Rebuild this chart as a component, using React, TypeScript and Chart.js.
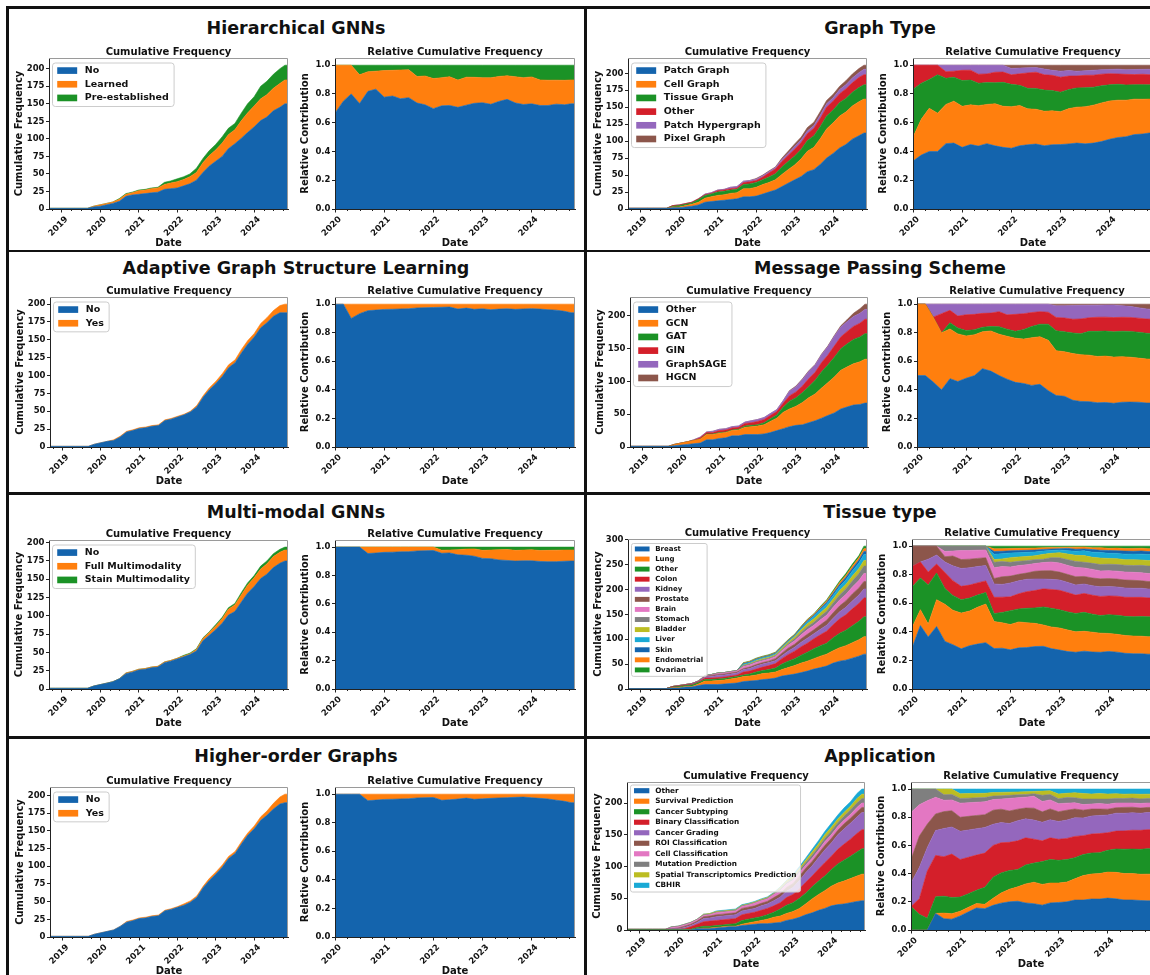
import React, { useEffect, useRef } from 'react';
import { Chart, registerables } from 'chart.js';

Chart.register(...registerables);
const FONT = '"DejaVu Sans", sans-serif';
Chart.defaults.font.family = FONT;
Chart.defaults.font.weight = 'bold';
Chart.defaults.color = '#111';

// ---------- time axis (decimal years) ----------
const DATES = [2018.67, 2018.83, 2019.0, 2019.17, 2019.33, 2019.5, 2019.67, 2019.83, 2020.0, 2020.17, 2020.33, 2020.5, 2020.67, 2020.83, 2021.0, 2021.17, 2021.33, 2021.5, 2021.67, 2021.83, 2022.0, 2022.17, 2022.33, 2022.5, 2022.67, 2022.83, 2023.0, 2023.17, 2023.33, 2023.5, 2023.67, 2023.83, 2024.0, 2024.17, 2024.33, 2024.5, 2024.67, 2024.8, 2024.88];
const CUM_YEARS = [2019, 2020, 2021, 2022, 2023, 2024];
const REL_YEARS = [2020, 2021, 2022, 2023, 2024];
const REL_START_YEAR = 2020.0;
const MINOR_STEP = 0.25;

// ---------- Hierarchical GNNs ----------
const HIER_LABELS = ['No', 'Learned', 'Pre-established'];
const HIER_NO = [1,1,1,1,1,1,1,3,4,6,8,11,18,20,21,22,23,24,28,29,30,33,36,41,52,61,68,75,86,93,101,109,117,126,131,140,145,150,150];
const HIER_LEARNED = [0,0,0,0,0,0,0,1,2,2,2,3,3,3,5,5,6,6,7,8,9,9,10,11,14,15,16,19,20,20,25,28,30,31,32,32,34,34,34];
const HIER_PRE = [0,0,0,0,0,0,0,0,0,0,0,1,1,1,1,1,1,1,3,3,4,4,4,6,6,7,8,9,9,9,11,13,13,18,19,20,21,21,21];

// ---------- Graph Type ----------
const GT_LABELS = ['Patch Graph', 'Cell Graph', 'Tissue Graph', 'Other', 'Patch Hypergraph', 'Pixel Graph'];
const GT_PATCH = [1,1,1,1,1,1,1,2,2,3,4,6,10,11,12,13,14,15,18,18,19,22,25,28,33,38,43,48,55,58,66,75,82,90,95,103,108,112,112];
const GT_CELL = [0,0,0,0,0,0,0,1,1,2,3,4,6,7,8,8,9,9,12,12,13,14,14,15,18,20,22,26,30,33,38,43,45,47,48,49,50,50,50];
const GT_TISSUE = [0,0,0,0,0,0,0,1,2,2,2,4,4,4,5,5,5,5,6,7,7,7,8,9,11,12,13,14,16,17,18,19,19,20,20,20,21,21,21];
const GT_OTHER = [0,0,0,0,0,0,0,1,1,1,1,1,1,1,2,2,2,2,3,3,3,4,6,7,8,9,10,10,10,11,12,13,13,13,14,14,15,15,15];
const GT_HYPER = [0,0,0,0,0,0,0,0,0,0,0,0,1,1,1,1,2,2,2,2,2,2,2,2,3,3,4,4,4,4,5,5,5,6,6,7,7,8,8];
const GT_PIXEL = [0,0,0,0,0,0,0,0,0,0,0,0,0,0,0,0,0,0,0,0,1,1,1,1,2,3,4,4,5,5,5,5,5,5,6,6,6,6,6];

// ---------- Adaptive Graph Structure Learning ----------
const AD_LABELS = ['No', 'Yes'];
const AD_NO = [1,1,1,1,1,1,1,4,6,8,9,14,21,23,26,27,29,30,37,39,42,45,49,56,70,80,89,99,111,118,132,144,154,167,174,183,188,188,188];
const AD_YES = [0,0,0,0,0,0,0,0,0,0,1,1,1,1,1,1,1,1,1,1,1,1,1,2,2,3,3,4,4,4,5,5,5,6,7,8,10,12,12];

// ---------- Message Passing Scheme ----------
const MSG_LABELS = ['Other', 'GCN', 'GAT', 'GIN', 'GraphSAGE', 'HGCN'];
const MSG_OTHER = [1,1,1,1,1,1,1,2,3,4,5,6,11,11,13,14,17,17,19,19,19,20,22,25,28,31,33,34,37,40,44,48,52,58,61,64,65,67,67];
const MSG_GCN = [0,0,0,0,0,0,0,2,3,4,5,6,8,8,8,8,8,9,11,12,13,14,17,19,25,27,29,34,38,41,46,50,55,59,61,63,65,67,67];
const MSG_GAT = [0,0,0,0,0,0,0,0,0,0,0,0,1,1,1,1,1,1,2,2,2,3,4,5,8,12,13,15,17,21,25,27,30,33,35,37,38,39,39];
const MSG_GIN = [0,0,0,0,0,0,0,0,0,0,0,2,2,2,3,3,3,3,4,4,5,5,5,5,6,8,9,10,12,12,14,15,17,18,19,20,21,22,22];
const MSG_SAGE = [0,0,0,0,0,0,0,0,0,0,1,1,1,2,2,2,2,2,2,3,3,3,3,3,4,7,8,10,11,11,12,13,15,15,15,15,15,15,15];
const MSG_HGCN = [0,0,0,0,0,0,0,0,0,0,0,0,0,0,0,0,0,0,0,0,0,0,0,0,0,1,1,1,1,1,1,1,1,2,3,5,7,8,8];

// ---------- Multi-modal GNNs ----------
const MM_LABELS = ['No', 'Full Multimodality', 'Stain Multimodality'];
const MM_NO = [1,1,1,1,1,1,1,4,6,8,10,14,21,23,26,27,29,30,36,38,41,44,47,52,66,73,81,90,101,106,119,131,140,151,157,166,172,175,175];
const MM_FULL = [0,0,0,0,0,0,0,0,0,0,0,0,1,1,1,1,1,1,1,1,1,1,1,2,3,4,5,6,8,9,10,11,12,13,14,15,15,15,15];
const MM_STAIN = [0,0,0,0,0,0,0,0,0,0,0,0,0,0,0,0,0,0,0,0,0,1,1,1,1,1,2,2,2,2,3,3,3,4,4,4,4,4,4];

// ---------- Tissue type ----------
const TT_LABELS = ['Breast', 'Lung', 'Other', 'Colon', 'Kidney', 'Prostate', 'Brain', 'Stomach', 'Bladder', 'Liver', 'Skin', 'Endometrial', 'Ovarian'];
const TT_BREAST = [1,1,1,1,1,1,1,2,2,4,4,7,9,9,9,10,11,12,15,16,17,19,20,22,26,28,30,33,36,40,43,46,52,56,58,62,66,70,70];
const TT_LUNG = [0,0,0,0,0,0,0,1,1,1,1,3,7,7,8,8,9,10,10,10,11,12,12,12,13,15,17,19,20,21,23,24,25,27,29,31,33,35,35];
const TT_OTHER = [0,0,0,0,0,0,0,1,2,2,3,3,3,3,3,3,3,3,3,4,6,6,7,8,11,13,14,16,18,20,21,22,26,29,31,34,37,40,40];
const TT_COLON = [0,0,0,0,0,0,0,1,1,1,1,1,3,3,3,3,3,3,6,6,6,7,8,9,11,13,15,17,18,20,22,24,26,29,31,34,36,38,38];
const TT_KIDNEY = [0,0,0,0,0,0,0,0,0,0,1,1,2,3,4,4,4,4,5,5,6,6,6,6,6,7,8,9,10,10,11,12,13,14,15,16,17,18,18];
const TT_PROSTATE = [0,0,0,0,0,0,0,0,1,1,1,1,1,2,2,2,2,2,2,3,3,3,3,4,5,6,6,7,8,8,9,10,11,12,13,14,14,15,15];
const TT_BRAIN = [0,0,0,0,0,0,0,0,0,0,0,0,1,1,2,2,2,2,4,4,4,4,4,4,5,6,7,8,9,9,10,10,11,12,13,14,15,16,16];
const TT_STOMACH = [0,0,0,0,0,0,0,0,0,0,0,0,1,1,1,1,1,1,2,2,2,2,2,2,2,3,4,5,6,6,7,8,9,10,11,12,14,15,15];
const TT_BLADDER = [0,0,0,0,0,0,0,0,0,0,0,0,0,0,0,0,0,0,1,1,2,2,2,2,3,3,4,5,6,7,7,8,8,9,9,10,10,11,11];
const TT_LIVER = [0,0,0,0,0,0,0,0,0,0,0,0,0,0,0,0,0,0,2,2,2,2,2,2,2,2,2,3,4,5,6,7,7,8,9,10,11,12,12];
const TT_SKIN = [0,0,0,0,0,0,0,0,0,0,0,0,0,0,0,0,0,0,1,1,1,1,1,1,1,1,1,2,2,2,3,3,4,4,5,5,6,6,6];
const TT_ENDO = [0,0,0,0,0,0,0,0,0,0,0,0,0,0,0,0,0,0,1,1,1,1,1,1,1,1,1,1,2,2,2,3,3,4,4,5,5,6,6];
const TT_OVARIAN = [0,0,0,0,0,0,0,0,0,0,0,0,0,0,0,0,0,0,1,1,1,1,1,1,1,1,1,1,1,1,2,2,3,3,4,4,4,5,5];

// ---------- Higher-order Graphs ----------
const HO_LABELS = ['No', 'Yes'];
const HO_NO = [1,1,1,1,1,1,1,4,6,8,10,15,21,23,26,27,29,30,37,39,42,45,49,56,70,80,89,99,111,118,132,144,153,165,172,181,188,190,190];
const HO_YES = [0,0,0,0,0,0,0,0,0,0,0,0,1,1,1,1,1,1,1,1,1,2,2,2,2,3,3,3,3,3,3,3,4,5,6,8,10,12,12];

// ---------- Application ----------
const AP_LABELS = ['Other', 'Survival Prediction', 'Cancer Subtyping', 'Binary Classification', 'Cancer Grading', 'ROI Classification', 'Cell Classification', 'Mutation Prediction', 'Spatial Transcriptomics Prediction', 'CBHIR'];
const AP_OTHER = [0,0,0,0,0,0,0,0,0,0,0,2,2,2,3,4,5,5,7,8,9,10,10,11,12,15,17,20,24,27,31,34,38,40,41,43,45,46,46];
const AP_SURV = [0,0,0,0,0,0,0,0,0,0,0,0,1,1,1,1,1,1,2,3,4,5,7,9,10,11,12,14,17,22,25,28,31,34,36,38,40,42,42];
const AP_SUBTYPE = [1,1,1,1,1,1,1,1,1,1,1,2,3,3,3,3,3,4,6,6,6,6,7,8,11,13,14,16,17,19,21,23,26,30,33,35,38,40,40];
const AP_BINARY = [0,0,0,0,0,0,0,0,0,1,4,5,7,8,8,8,8,8,9,9,9,10,10,10,10,12,13,15,17,17,19,21,21,23,25,27,29,30,30];
const AP_GRADING = [0,0,0,0,0,0,0,1,1,2,2,3,5,5,6,6,6,6,6,6,6,7,7,8,9,10,11,13,15,16,18,20,21,23,24,25,26,27,27];
const AP_ROI = [0,0,0,0,0,0,0,0,1,2,2,2,3,3,3,3,3,3,4,4,4,4,4,5,5,6,6,7,7,7,7,7,7,7,8,8,8,8,8];
const AP_CELL = [0,0,0,0,0,0,0,2,2,2,2,2,2,2,3,3,3,3,3,3,4,4,4,5,5,5,5,5,5,5,5,6,6,6,6,6,7,7,7];
const AP_MUT = [0,0,0,0,0,0,0,1,1,1,1,1,1,1,1,1,1,1,1,1,1,1,1,1,3,3,3,4,4,5,5,5,6,6,6,7,7,7,7];
const AP_ST = [0,0,0,0,0,0,0,0,0,0,0,0,1,1,1,1,1,1,1,1,1,1,1,1,2,2,3,3,4,5,5,6,6,6,6,6,7,7,7];
const AP_CBHIR = [0,0,0,0,0,0,0,0,0,0,0,0,0,0,1,1,1,1,1,1,1,1,1,1,1,1,3,3,3,4,5,5,6,6,7,7,8,8,8];

// ---------- styling ----------
const COLORS = ['#1464ad', '#ff7f0e', '#1b9226', '#d41f2a', '#9467bd', '#8c564b', '#e377c2', '#7f7f7f', '#bcbd22', '#19a9d5'];

type Geom = { l: number; r: number; t: number; b: number };
type Panel = {
  title: string; cx: number; cy: number;
  labels: string[]; series: number[][];
  step: number; fs: number; dy: number;
  cum: Geom; rel: Geom;
};

const PANELS: Panel[] = [
  { title: 'Hierarchical GNNs', cx: 296, cy: 28, labels: HIER_LABELS, series: [HIER_NO, HIER_LEARNED, HIER_PRE], step: 25, fs: 9.5, dy: 4.5,
    cum: { l: 49, r: 288, t: 58, b: 209 }, rel: { l: 335, r: 575, t: 58, b: 209 } },
  { title: 'Graph Type', cx: 880, cy: 28, labels: GT_LABELS, series: [GT_PATCH, GT_CELL, GT_TISSUE, GT_OTHER, GT_HYPER, GT_PIXEL], step: 25, fs: 9.5, dy: 4.5,
    cum: { l: 628, r: 867, t: 58, b: 209 }, rel: { l: 913, r: 1153, t: 58, b: 209 } },
  { title: 'Adaptive Graph Structure Learning', cx: 296, cy: 268, labels: AD_LABELS, series: [AD_NO, AD_YES], step: 25, fs: 9.5, dy: 4.5,
    cum: { l: 50, r: 288, t: 297, b: 447 }, rel: { l: 335, r: 575, t: 297, b: 447 } },
  { title: 'Message Passing Scheme', cx: 880, cy: 268, labels: MSG_LABELS, series: [MSG_OTHER, MSG_GCN, MSG_GAT, MSG_GIN, MSG_SAGE, MSG_HGCN], step: 50, fs: 9.5, dy: 4.5,
    cum: { l: 630, r: 868, t: 297, b: 447 }, rel: { l: 917, r: 1157, t: 297, b: 447 } },
  { title: 'Multi-modal GNNs', cx: 296, cy: 512, labels: MM_LABELS, series: [MM_NO, MM_FULL, MM_STAIN], step: 25, fs: 9.5, dy: 4.5,
    cum: { l: 49, r: 288, t: 540, b: 689 }, rel: { l: 335, r: 575, t: 540, b: 689 } },
  { title: 'Tissue type', cx: 880, cy: 512, labels: TT_LABELS,
    series: [TT_BREAST, TT_LUNG, TT_OTHER, TT_COLON, TT_KIDNEY, TT_PROSTATE, TT_BRAIN, TT_STOMACH, TT_BLADDER, TT_LIVER, TT_SKIN, TT_ENDO, TT_OVARIAN],
    step: 50, fs: 7, dy: 4,
    cum: { l: 628, r: 867, t: 539, b: 689 }, rel: { l: 912, r: 1152, t: 539, b: 689 } },
  { title: 'Higher-order Graphs', cx: 296, cy: 756, labels: HO_LABELS, series: [HO_NO, HO_YES], step: 25, fs: 9.5, dy: 4.5,
    cum: { l: 50, r: 288, t: 787, b: 937 }, rel: { l: 335, r: 575, t: 787, b: 937 } },
  { title: 'Application', cx: 880, cy: 756, labels: AP_LABELS,
    series: [AP_OTHER, AP_SURV, AP_SUBTYPE, AP_BINARY, AP_GRADING, AP_ROI, AP_CELL, AP_MUT, AP_ST, AP_CBHIR],
    step: 50, fs: 7.3, dy: 2.5,
    cum: { l: 627, r: 865, t: 782, b: 930 }, rel: { l: 911, r: 1151, t: 782, b: 930 } },
];

const overlayPlugin = {
  id: 'overlay',
  afterDraw(chart: any, _args: any, opts: any) {
    const { ctx, chartArea: a } = chart;
    const xs = chart.scales.x;
    ctx.save();
    // top/right frame
    ctx.strokeStyle = '#9a9a9a';
    ctx.lineWidth = 1;
    ctx.beginPath();
    ctx.moveTo(a.left, a.top + 0.5);
    ctx.lineTo(a.right - 0.5, a.top + 0.5);
    ctx.lineTo(a.right - 0.5, a.bottom);
    ctx.stroke();

    // minor ticks on the date axis
    ctx.strokeStyle = '#222';
    ctx.beginPath();
    for (let v = Math.ceil(xs.min / MINOR_STEP) * MINOR_STEP; v <= xs.max; v += MINOR_STEP) {
      if (Math.abs(v - Math.round(v)) < 1e-6) continue;
      const px = Math.round(xs.getPixelForValue(v)) + 0.5;
      ctx.moveTo(px, a.bottom);
      ctx.lineTo(px, a.bottom + 2);
    }
    ctx.stroke();

    // subplot title
    ctx.fillStyle = '#111';
    ctx.font = `bold 10px ${FONT}`;
    ctx.textAlign = 'center';
    ctx.textBaseline = 'middle';
    ctx.fillText(opts.title, (a.left + a.right) / 2, a.top - 6);

    // legend inside the axes
    if (opts.legend) {
      const fs = opts.fs;
      const ds = chart.data.datasets;
      ctx.font = `bold ${fs}px ${FONT}`;
      let tw = 0;
      ds.forEach((d: any) => { tw = Math.max(tw, ctx.measureText(d.label).width); });
      const pitch = 1.44 * fs;
      const x0 = a.left + 3;
      const y0 = a.top + opts.dy;
      const w = 0.55 * fs + 2.1 * fs + 0.8 * fs + tw + 0.5 * fs;
      const h = 1.7 * fs + (ds.length - 1) * pitch;
      ctx.beginPath();
      ctx.roundRect(x0 + 0.5, y0 + 0.5, w, h, 0.3 * fs);
      ctx.fillStyle = 'rgba(255,255,255,0.8)';
      ctx.fill();
      ctx.strokeStyle = '#cccccc';
      ctx.lineWidth = 1;
      ctx.stroke();
      ctx.textAlign = 'left';
      ds.forEach((d: any, i: number) => {
        const cy = y0 + 0.85 * fs + i * pitch;
        ctx.fillStyle = d.backgroundColor;
        ctx.fillRect(x0 + 0.55 * fs, cy - 0.35 * fs, 2.1 * fs, 0.7 * fs);
        ctx.fillStyle = '#111';
        ctx.fillText(d.label, x0 + 3.45 * fs, cy);
      });
    }
    ctx.restore();
  },
};

const YW = 40, PT = 16, PR = 4, XH = 44;
const TICK_FONT = { size: 8.5, weight: 'bold' };

function SubChart({ p, rel }: { p: Panel; rel: boolean }) {
  const g = rel ? p.rel : p.cum;
  const left = g.l - YW;
  const top = g.t - PT;
  const width = g.r - g.l + YW + PR;
  const height = g.b - g.t + PT + XH;
  const ref = useRef<HTMLCanvasElement>(null);

  useEffect(() => {
    if (!ref.current) return;
    const totals = DATES.map((_, i) => p.series.reduce((s, arr) => s + arr[i], 0));
    const idx = DATES.map((_, i) => i).filter((i) => !rel || DATES[i] >= REL_START_YEAR);
    const datasets = p.series.map((arr, k) => ({
      label: p.labels[k],
      data: idx.map((i) => ({ x: DATES[i], y: rel ? arr[i] / totals[i] : arr[i] })),
      backgroundColor: COLORS[k % COLORS.length],
      borderColor: COLORS[k % COLORS.length],
      borderWidth: 0.6,
      pointRadius: 0,
      fill: k === 0 ? 'origin' : '-1',
      tension: 0,
    }));
    const yMax = rel ? 1.05 : Math.max(...totals) * 1.05;
    const step = rel ? 0.2 : p.step;
    const yTicks: { value: number }[] = [];
    for (let k = 0; k * step <= yMax + 1e-9; k++) yTicks.push({ value: Math.round(k * step * 1000) / 1000 });

    const chart = new Chart(ref.current, {
      type: 'line',
      data: { datasets },
      options: {
        animation: false,
        responsive: false,
        maintainAspectRatio: false,
        events: [],
        layout: { padding: { top: PT, right: PR, left: 0, bottom: 0 } },
        plugins: {
          legend: { display: false },
          tooltip: { enabled: false },
          overlay: { title: rel ? 'Relative Cumulative Frequency' : 'Cumulative Frequency', legend: !rel, fs: p.fs, dy: p.dy },
        } as any,
        scales: {
          x: {
            type: 'linear',
            min: rel ? REL_START_YEAR : DATES[0],
            max: DATES[DATES.length - 1],
            afterBuildTicks: (ax: any) => { ax.ticks = (rel ? REL_YEARS : CUM_YEARS).map((v) => ({ value: v })); },
            afterFit: (ax: any) => { ax.height = XH; },
            ticks: {
              autoSkip: false, minRotation: 45, maxRotation: 45, padding: 2, labelOffset: 5,
              font: TICK_FONT, color: '#111',
              callback: (v: any) => String(v),
            },
            grid: { drawOnChartArea: false, drawTicks: true, tickLength: 3.5, color: '#222' },
            border: { display: true, color: '#222', width: 1, z: 1 },
            title: { display: true, text: 'Date', font: { size: 10, weight: 'bold' }, color: '#111', padding: { top: 0, bottom: 4 } },
          },
          y: {
            type: 'linear',
            stacked: true,
            min: 0,
            max: yMax,
            afterBuildTicks: (ax: any) => { ax.ticks = yTicks.map((t) => ({ value: t.value })); },
            afterFit: (ax: any) => { ax.width = YW; },
            ticks: {
              stepSize: step, padding: 1.5, includeBounds: false, autoSkip: false,
              font: TICK_FONT, color: '#111',
              callback: (v: any) => (rel ? Number(v).toFixed(1) : String(v)),
            },
            grid: { drawOnChartArea: false, tickLength: 3, color: '#222' },
            border: { display: true, color: '#222', width: 1, z: 1 },
            title: { display: true, text: rel ? 'Relative Contribution' : 'Cumulative Frequency', font: { size: 10, weight: 'bold' }, color: '#111', padding: { top: 4, bottom: 0 } },
          },
        },
      } as any,
      plugins: [overlayPlugin],
    });
    return () => chart.destroy();
  }, []);

  return (
    <canvas
      ref={ref}
      width={width}
      height={height}
      style={{ position: 'absolute', left, top, width, height }}
    />
  );
}

const line = (l: number, t: number, w: number, h: number, key: string) => (
  <div key={key} style={{ position: 'absolute', left: l, top: t, width: w, height: h, background: '#111' }} />
);

export default function App() {
  return (
    <div style={{ position: 'absolute', left: 0, top: 0, width: 1150, height: 975, overflow: 'hidden', background: '#fff' }}>
      {line(6, 6, 1144, 2.5, 'top')}
      {line(6, 6, 2.5, 969, 'left')}
      {line(584, 6, 2.5, 969, 'mid')}
      {line(6, 249.5, 1144, 2.5, 'h1')}
      {line(6, 492, 1144, 2.5, 'h2')}
      {line(6, 736, 1144, 2.5, 'h3')}
      {PANELS.map((p, i) => (
        <React.Fragment key={i}>
          <div
            style={{
              position: 'absolute', left: p.cx - 300, top: p.cy - 10, width: 600, height: 20,
              lineHeight: '20px', textAlign: 'center', fontFamily: FONT, fontWeight: 'bold',
              fontSize: 17.5, color: '#111', whiteSpace: 'nowrap',
            }}
          >
            {p.title}
          </div>
          <SubChart p={p} rel={false} />
          <SubChart p={p} rel={true} />
        </React.Fragment>
      ))}
    </div>
  );
}
